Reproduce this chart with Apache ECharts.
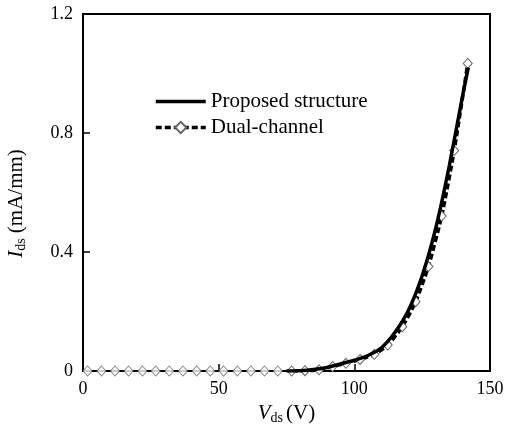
<!DOCTYPE html>
<html><head><meta charset="utf-8">
<script src="https://cdn.jsdelivr.net/npm/echarts@6/dist/echarts.min.js"></script>
<style>html,body{margin:0;padding:0;background:#fff}#c{width:508px;height:432px}</style>
</head><body><div id="c"></div>
<script>
const xTicks = [0, 50, 100, 150];
const yTicks = [0, 0.4, 0.8, 1.2];
const proposedX = [75, 80, 85, 90, 95, 100, 105, 110, 115, 120, 125, 130, 135, 140, 142];
const proposedY = [0, 0.001, 0.005, 0.012, 0.024, 0.036, 0.052, 0.078, 0.13, 0.205, 0.32, 0.48, 0.69, 0.93, 1.02];
const dualX = [1.7, 6.8, 11.8, 16.8, 21.9, 26.8, 31.8, 36.8, 41.9, 46.9, 51.8, 56.9, 61.9, 66.9, 71.8,
  76.9, 81.8, 87.0, 92.0, 96.9, 102.1, 107.4, 112.3, 117.7, 122.6, 127.3, 132.2, 136.8, 141.8];
const dualY = [0, 0, 0, 0, 0, 0, 0, 0, 0, 0, 0, 0, 0, 0, 0,
  0, 0.001, 0.004, 0.015, 0.026, 0.039, 0.056, 0.087, 0.149, 0.233, 0.351, 0.521, 0.741, 1.034];
const names = ['Proposed structure', 'Dual-channel'];

const proposed = proposedX.map((x, i) => [x, proposedY[i]]);
const dualAll = dualX.map((x, i) => [x, dualY[i]]);
const dualLine = dualAll.filter(p => p[0] >= 75);
const dualFlat = dualAll.filter(p => p[0] < 75);

const serif = 'Liberation Serif, Times New Roman, serif';
const chart = echarts.init(document.getElementById('c'));
const markerStyle = { color: '#fff', borderColor: '#666', borderWidth: 1 };
chart.setOption({
  animation: false,
  backgroundColor: '#fff',
  grid: { left: 83, right: 18, top: 14, bottom: 61, show: true, borderColor: '#000', borderWidth: 2,
    outerBoundsMode: 'none', containLabel: false },
  legend: {
    data: [
      { name: names[0], itemStyle: { opacity: 0 }, lineStyle: { width: 3.5 } },
      { name: names[1], lineStyle: { width: 3.5 } }
    ],
    orient: 'vertical', left: 149, top: 86, itemWidth: 50, itemHeight: 14, itemGap: 5,
    textStyle: { fontFamily: serif, fontSize: 21, color: '#000' }
  },
  xAxis: {
    type: 'value', min: xTicks[0], max: xTicks[xTicks.length - 1], interval: 50,
    axisLine: { show: true, lineStyle: { color: '#000', width: 2 } },
    axisTick: { show: true, inside: true, length: 7, lineStyle: { color: '#000', width: 1.5 } },
    splitLine: { show: false },
    axisLabel: { fontFamily: serif, fontSize: 18, color: '#000', margin: 9 },
    name: '{i|V}{s|ds}{n|(V)}', nameLocation: 'middle', nameGap: 30,
    nameTextStyle: {
      rich: {
        i: { fontFamily: serif, fontSize: 21, fontStyle: 'italic', color: '#000' },
        s: { fontFamily: serif, fontSize: 14, color: '#000', padding: [9, 3, 0, 0] },
        n: { fontFamily: serif, fontSize: 21, color: '#000' }
      }
    }
  },
  yAxis: {
    type: 'value', min: yTicks[0], max: yTicks[yTicks.length - 1], interval: 0.4,
    axisLine: { show: true, lineStyle: { color: '#000', width: 2 } },
    axisTick: { show: true, inside: true, length: 7, lineStyle: { color: '#000', width: 1.5 } },
    splitLine: { show: false },
    axisLabel: { fontFamily: serif, fontSize: 18, color: '#000', margin: 10,
      formatter: v => (v === 0 ? '0' : v.toFixed(1)) },
    name: '{i|I}{s|ds}{n| (mA/mm)}', nameLocation: 'middle', nameGap: 55,
    nameTextStyle: {
      padding: [0, 22, 0, 0],
      rich: {
        i: { fontFamily: serif, fontSize: 21, fontStyle: 'italic', color: '#000' },
        s: { fontFamily: serif, fontSize: 14, color: '#000', padding: [9, 0, 0, 0] },
        n: { fontFamily: serif, fontSize: 21, color: '#000' }
      }
    }
  },
  series: [
    {
      name: names[0], type: 'line', data: proposed, smooth: 0.2, symbol: 'none',
      lineStyle: { color: '#000', width: 3.5 }, itemStyle: { color: '#000' }, z: 3
    },
    {
      name: names[1], type: 'line', data: dualLine, smooth: 0.2, symbol: 'diamond', symbolSize: [9, 10],
      showSymbol: true,
      lineStyle: { color: '#000', width: 3.5, type: [6, 3] }, itemStyle: markerStyle, z: 2
    },
    {
      name: 'markers', type: 'scatter', data: dualFlat, symbol: 'diamond', symbolSize: [9, 10],
      itemStyle: markerStyle, z: 2
    }
  ]
});
</script></body></html>
